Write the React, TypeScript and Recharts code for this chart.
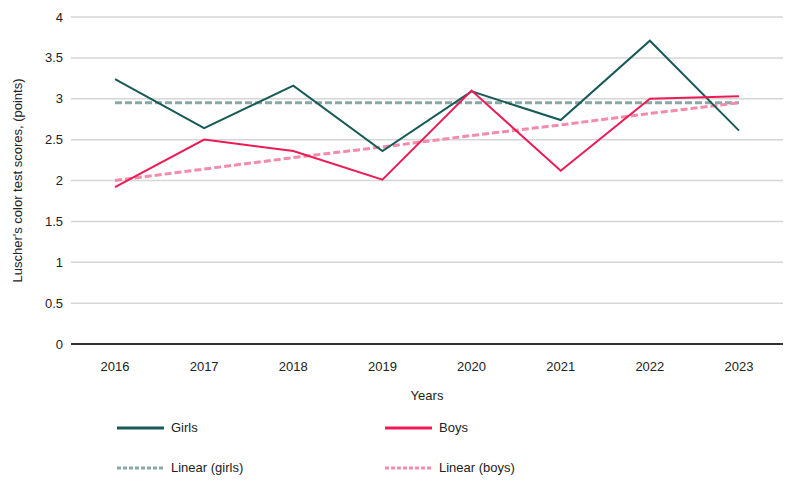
import React from "react"
import { LineChart, Line, XAxis, YAxis, CartesianGrid, ReferenceLine } from "recharts"

// values
const years = ["2016", "2017", "2018", "2019", "2020", "2021", "2022", "2023"]
const girls = [3.24, 2.64, 3.16, 2.36, 3.09, 2.74, 3.71, 2.61]
const boys = [1.92, 2.5, 2.36, 2.01, 3.1, 2.12, 3.0, 3.03]
const linearGirls = [2.95, 2.95, 2.95, 2.95, 2.95, 2.95, 2.95, 2.95]
const linearBoys = [2.0, 2.14, 2.28, 2.41, 2.55, 2.68, 2.82, 2.95]
const yTicks = [0, 0.5, 1, 1.5, 2, 2.5, 3, 3.5, 4]

const FONT = "'Liberation Sans', Arial, sans-serif"
const GIRLS = "#185a58"
const BOYS = "#ec1b55"
const LIN_GIRLS = "#8aa8a7"
const LIN_BOYS = "#f38bab"

const data = years.map((year, i) => ({
    year,
    girls: girls[i],
    boys: boys[i],
    linearGirls: linearGirls[i],
    linearBoys: linearBoys[i],
}))

const legendItems = [
    { name: "Girls", color: GIRLS, dash: undefined, left: 117, top: 420 },
    { name: "Boys", color: BOYS, dash: undefined, left: 385, top: 420 },
    { name: "Linear (girls)", color: LIN_GIRLS, dash: "4 2", left: 117, top: 460 },
    { name: "Linear (boys)", color: LIN_BOYS, dash: "4 2", left: 385, top: 460 },
]

function ChartLegend() {
    return (
        <>
            {legendItems.map((it) => (
                <div key={it.name} style={{ position: "absolute", left: it.left, top: it.top, display: "flex", alignItems: "center", fontFamily: FONT, fontSize: 13, color: "#222", lineHeight: "16px" }}>
                    <svg width={48} height={6}>
                        <line x1={0} y1={3} x2={47} y2={3} stroke={it.color} strokeWidth={3} strokeDasharray={it.dash} />
                    </svg>
                    <span style={{ marginLeft: 6 }}>{it.name}</span>
                </div>
            ))}
        </>
    )
}

export default function App() {
    return (
        <div style={{ position: "relative", width: 800, height: 484 }}>
            <style>{"body{margin:0}"}</style>
            <LineChart width={800} height={484} data={data} margin={{ top: 17, right: 17, left: 0, bottom: 80 }}>
                <CartesianGrid vertical={false} stroke="#d6d6d6" strokeWidth={1.5} />
                <XAxis
                    dataKey="year"
                    padding={{ left: 44, right: 44 }}
                    axisLine={false}
                    tickLine={false}
                    tick={{ fill: "#222", fontSize: 13, fontFamily: FONT }}
                    tickMargin={12}
                    height={60}
                    label={{ value: "Years", position: "insideBottom", offset: 4, fill: "#222", fontSize: 13, fontFamily: FONT }}
                />
                <YAxis
                    domain={[0, 4]}
                    ticks={yTicks}
                    width={71}
                    axisLine={false}
                    tickLine={false}
                    tick={{ fill: "#222", fontSize: 13, fontFamily: FONT }}
                    tickMargin={2}
                    label={{
                        content: ({ viewBox }: any) => {
                            const cy = viewBox.y + viewBox.height / 2
                            return (
                                <text x={22} y={cy} transform={`rotate(-90 22 ${cy})`} textAnchor="middle" fill="#222" fontSize={13} fontFamily={FONT}>
                                    Luscher's color test scores, (points)
                                </text>
                            )
                        },
                    }}
                />
                <ReferenceLine y={0} stroke="#333" strokeWidth={2} />
                <Line dataKey="linearGirls" stroke={LIN_GIRLS} strokeWidth={3} strokeDasharray="7 3" dot={false} isAnimationActive={false} />
                <Line dataKey="linearBoys" stroke={LIN_BOYS} strokeWidth={3} strokeDasharray="7 3" dot={false} isAnimationActive={false} />
                <Line dataKey="girls" stroke={GIRLS} strokeWidth={2} dot={false} isAnimationActive={false} />
                <Line dataKey="boys" stroke={BOYS} strokeWidth={2} dot={false} isAnimationActive={false} />
            </LineChart>
            <ChartLegend />
        </div>
    )
}
